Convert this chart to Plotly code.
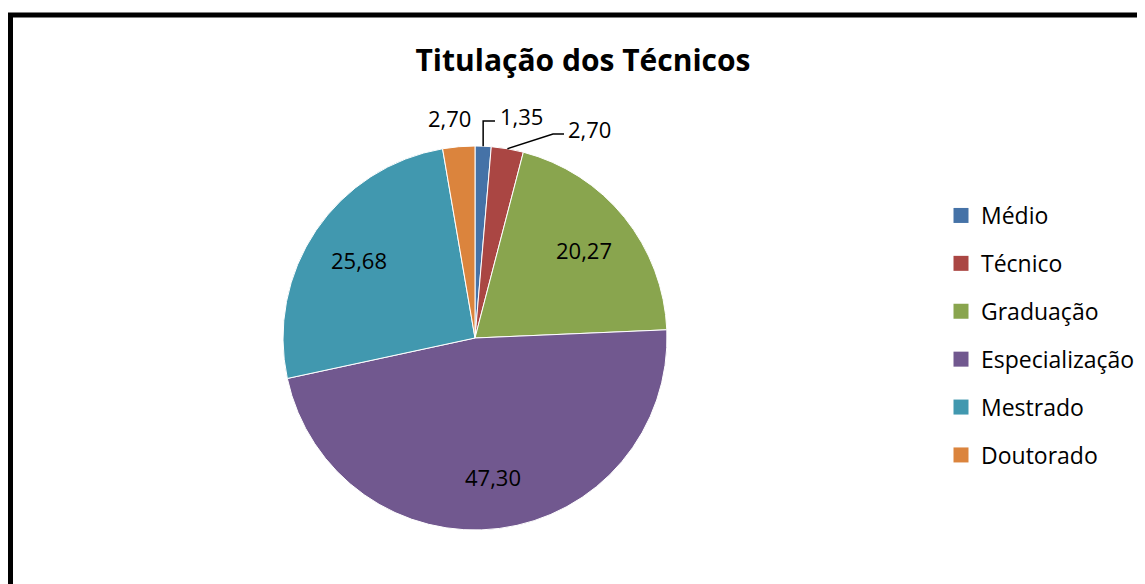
import math
import plotly.graph_objects as go

# dados do grafico (percentuais)
categorias = ['Médio', 'Técnico', 'Graduação', 'Especialização', 'Mestrado', 'Doutorado']
valores = [1.35, 2.70, 20.27, 47.30, 25.68, 2.70]
cores = ['#4572A7', '#AA4643', '#89A54E', '#71588F', '#4198AF', '#DB843D']

FONTE = 'Open Sans'
W, H = 1145, 584
OFF = 8  # margem do body da pagina

# geometria da pizza (pixels na tela)
CX, CY, R = 475, 338, 192


def px(x):
    return (x - OFF) / W


def py(y):
    return 1 - (y - OFF) / H


fig = go.Figure()
fig.add_trace(go.Pie(
    labels=categorias,
    values=valores,
    sort=False,
    direction='clockwise',
    rotation=0,
    marker=dict(colors=cores, line=dict(color='white', width=1)),
    textinfo='none',
    hoverinfo='label+value',
    showlegend=False,
    domain=dict(x=[px(CX - R), px(CX + R)], y=[py(CY + R), py(CY - R)]),
))

# legenda com marcadores quadrados (um grupo por categoria para o espacamento)
for cat, cor in zip(categorias, cores):
    fig.add_trace(go.Scatter(
        x=[None], y=[None], mode='markers', name=cat, legendgroup=cat,
        marker=dict(symbol='square', size=15, color=cor),
    ))

# rotulos: angulo medio de cada fatia a partir dos valores
total = sum(valores)
angulos = []
acum = 0
for v in valores:
    angulos.append(2 * math.pi * (acum + v / 2) / total)
    acum += v

rotulos = ['%.2f' % v for v in valores]
rotulos = [r.replace('.', ',') for r in rotulos]

anots = []
shapes = []
fonte_rot = dict(family=FONTE, size=22, color='black')


def rotulo(x, y, txt, anchor='center'):
    return dict(x=px(x), y=py(y), xref='paper', yref='paper', text=txt,
                showarrow=False, xanchor=anchor, yanchor='middle', font=fonte_rot)


for i, (ang, txt) in enumerate(zip(angulos, rotulos)):
    if valores[i] > 10:
        k = 0.73
        anots.append(rotulo(CX + k * R * math.sin(ang), CY - k * R * math.cos(ang), txt))

# rotulos externos das fatias pequenas, com linhas de chamada
bx = [CX + R * math.sin(a) for a in angulos]
by = [CY - R * math.cos(a) for a in angulos]
# Medio
shapes.append(dict(type='path', xref='paper', yref='paper',
                   path='M %f %f L %f %f L %f %f' % (px(bx[0]), py(by[0]), px(bx[0]), py(121),
                                                    px(495), py(121)),
                   line=dict(color='black', width=1.5)))
anots.append(rotulo(498, 116, rotulos[0], 'left'))
# Tecnico
shapes.append(dict(type='path', xref='paper', yref='paper',
                   path='M %f %f L %f %f L %f %f' % (px(bx[1]), py(by[1]), px(553), py(134),
                                                    px(564), py(134)),
                   line=dict(color='black', width=1.5)))
anots.append(rotulo(566, 129, rotulos[1], 'left'))
# Doutorado
anots.append(rotulo(473, 118, rotulos[5], 'right'))

# borda do grafico
shapes.append(dict(type='rect', xref='paper', yref='paper',
                   x0=px(10.5), x1=1.05, y0=-0.05, y1=py(15),
                   line=dict(color='black', width=5)))

fig.update_layout(
    width=W, height=H,
    margin=dict(l=0, r=0, t=0, b=0),
    paper_bgcolor='white', plot_bgcolor='white',
    title=dict(text='<b>Titulação dos Técnicos</b>', x=px(583), y=py(60),
               xanchor='center', yanchor='middle',
               font=dict(family=FONTE, size=30, color='black')),
    legend=dict(x=px(941), y=py(194), xanchor='left', yanchor='top',
                font=dict(family=FONTE, size=23, color='black'),
                tracegroupgap=15, itemwidth=30),
    xaxis=dict(visible=False), yaxis=dict(visible=False),
    annotations=anots,
    shapes=shapes,
)

fig.write_html('out.html')
